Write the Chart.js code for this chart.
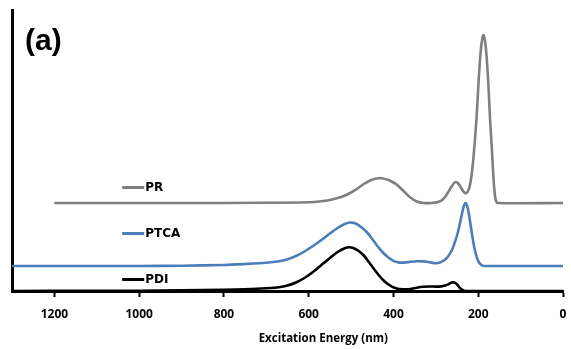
<!DOCTYPE html>
<html>
<head>
<meta charset="utf-8">
<script src="https://cdn.jsdelivr.net/npm/chart.js@4/dist/chart.umd.min.js"></script>
<style>
  html, body { margin: 0; padding: 0; background: #fff; }
  #wrap { position: relative; width: 571px; height: 349px; }
  canvas { display: block; }
</style>
</head>
<body>
<div id="wrap"><canvas id="c" width="571" height="349"></canvas></div>
<script>
// Series labels
const seriesNames = ["PR", "PTCA", "PDI"];
const seriesColors = ["#7f7f7f", "#4a7ebb", "#000000"];

// Tick labels of x axis (nm)
const xTicks = [0, 200, 400, 600, 800, 1000, 1200];

// Wavelength (nm) / intensity (a.u.) pairs
const prNm  = [1200, 900, 700, 600, 570, 545, 520, 500, 485, 470, 455, 440, 427, 412, 400, 391, 375, 360, 345, 329, 310, 295, 285, 275, 265, 258, 253, 247, 240, 233, 228, 224, 220, 216, 212, 208, 204, 200, 196, 192, 188, 184, 180, 176, 172, 168, 164, 161, 158, 154, 0];
const prVal = [88, 88, 88.2, 88.8, 89.8, 91.5, 94.5, 98.5, 102.5, 107, 110.5, 112.5, 112.8, 111, 108.5, 106, 99.5, 93.5, 89.5, 88, 88, 89, 91, 96, 103, 107.5, 109, 107.5, 103, 98.5, 98, 100, 105, 115, 130, 150, 173, 203, 230, 248, 256, 250, 233, 206, 171, 143, 113, 97, 90, 88, 88];

const ptcaNm  = [1300, 1000, 900, 800, 750, 700, 670, 650, 630, 610, 590, 570, 550, 530, 515, 502, 488, 475, 462, 450, 438, 425, 412, 400, 388, 375, 360, 345, 330, 315, 302, 292, 282, 272, 262, 255, 249, 243, 238, 234, 230, 226, 222, 218, 214, 210, 205, 200, 195, 190, 185, 0];
const ptcaVal = [25, 25, 25.3, 26, 27, 28.3, 29.8, 31.8, 35, 39.5, 45, 51, 57.5, 63.5, 67, 68.5, 67.2, 63.5, 58.5, 52, 45, 38.5, 33.5, 30.2, 28.6, 28.4, 29.2, 29.8, 29.6, 28.8, 27.8, 28.2, 30.2, 34, 41, 49, 57, 68, 78, 85, 88, 85, 77, 66, 55, 45, 36, 30, 26.8, 25.4, 25, 25];

const pdiNm  = [1300, 1100, 1000, 900, 800, 750, 700, 670, 650, 630, 610, 590, 570, 550, 530, 515, 505, 495, 482, 470, 458, 446, 434, 422, 410, 398, 386, 372, 360, 345, 330, 315, 300, 288, 278, 268, 260, 254, 248, 242, 236, 230, 0];
const pdiVal = [0, 0.2, 0.3, 0.6, 1.2, 1.8, 2.8, 3.8, 5.5, 8.5, 13, 19, 26, 33, 39.5, 42.8, 43.7, 43, 40, 35.5, 29, 22, 15.5, 10, 6, 3.2, 2, 1.7, 2, 3.3, 4.2, 4.5, 4.4, 4.6, 5.5, 7.3, 8.7, 8, 5.5, 2.5, 0.8, 0, 0];

const toPts = (xs, ys) => xs.map((v, i) => ({ x: v, y: ys[i] }));

const annot = {
  id: 'annot',
  afterDraw(chart, args, opts) {
    const { ctx, chartArea, scales: { x, y } } = chart;
    ctx.save();
    // panel label
    ctx.fillStyle = '#000';
    ctx.font = 'bold 30px "Liberation Sans", Arial, sans-serif';
    ctx.textBaseline = 'alphabetic';
    ctx.textAlign = 'left';
    ctx.fillText('(a)', chartArea.left + 13, chartArea.top + 40);
    // legend entries next to curves
    const lx = x.getPixelForValue(opts.legendNm);
    chart.data.datasets.forEach((ds, i) => {
      const ly = Math.round(y.getPixelForValue(opts.legendLevels[i])) + 0.5;
      ctx.strokeStyle = ds.borderColor;
      ctx.lineWidth = 3;
      ctx.beginPath();
      ctx.moveTo(lx, ly);
      ctx.lineTo(lx + 22, ly);
      ctx.stroke();
      ctx.fillStyle = '#000';
      ctx.font = 'bold 12px "DejaVu Sans", Verdana, sans-serif';
      ctx.textBaseline = 'middle';
      ctx.fillText(ds.label, lx + 23, ly + 0.5);
    });
    // axis title
    ctx.font = 'bold 11.5px "Open Sans", sans-serif';
    ctx.textAlign = 'center';
    ctx.textBaseline = 'alphabetic';
    ctx.fillText(opts.xTitle, chartArea.left + chartArea.width * 0.565, chartArea.bottom + 51);
    ctx.restore();
  }
};

new Chart(document.getElementById('c'), {
  type: 'line',
  data: {
    datasets: [
      { label: seriesNames[0], data: toPts(prNm, prVal), borderColor: seriesColors[0] },
      { label: seriesNames[1], data: toPts(ptcaNm, ptcaVal), borderColor: seriesColors[1] },
      { label: seriesNames[2], data: toPts(pdiNm, pdiVal), borderColor: seriesColors[2] }
    ]
  },
  options: {
    responsive: false,
    animation: false,
    elements: {
      point: { radius: 0 },
      line: { borderWidth: 2.6, tension: 0.3, cubicInterpolationMode: 'default', fill: false, capBezierPoints: true }
    },
    layout: { padding: { left: 12, right: 8, top: 10, bottom: 0 } },
    plugins: {
      legend: { display: false },
      tooltip: { enabled: false },
      annot: { legendNm: 1040, legendLevels: [104, 58, 12], xTitle: 'Excitation Energy (nm)' }
    },
    scales: {
      x: {
        type: 'linear',
        reverse: true,
        min: 0,
        max: 1300,
        afterFit: s => { s.height = 58; s.paddingLeft = 0; s.paddingRight = 0; },
        afterBuildTicks: s => { s.ticks = xTicks.map(v => ({ value: v })); },
        border: { display: true, color: '#000', width: 3 },
        grid: { display: true, drawOnChartArea: false, drawTicks: true, tickLength: 6, tickColor: '#000', tickWidth: 2 },
        ticks: {
          color: '#000',
          padding: 10,
          maxRotation: 0,
          autoSkip: false,
          callback: v => String(v),
          font: { family: '"Open Sans", sans-serif', weight: 'bold', size: 12 }
        }
      },
      y: {
        min: 0,
        max: 281,
        afterFit: s => { s.width = 0; },
        border: { display: true, color: '#000', width: 3 },
        grid: { display: false },
        ticks: { display: false }
      }
    }
  },
  plugins: [annot]
});
</script>
</body>
</html>
